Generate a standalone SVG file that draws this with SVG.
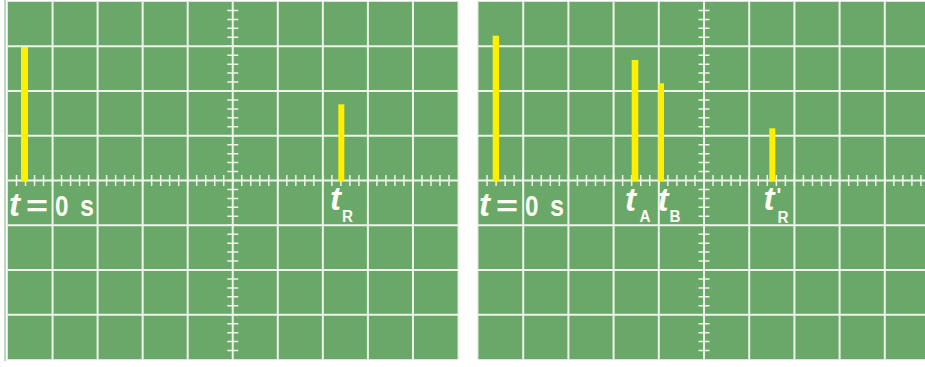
<svg xmlns="http://www.w3.org/2000/svg" width="925" height="367" viewBox="0 0 925 367">
  <style>
    .screen { fill: #69a869; stroke: #dce8d6; stroke-width: 1; }
    .grid { stroke: #eef4ea; stroke-width: 2; fill: none; }
    .tick { stroke: #eef4ea; stroke-width: 11; fill: none; }
    .pulse { fill: #fff000; }
    .lbl { font-family: "Liberation Sans", Arial, sans-serif; fill: #fdfcf2; font-weight: bold; }
    .big { font-size: 30px; }
    .it { font-style: italic; font-size: 33px; }
    .sub { font-size: 16px; }
  </style>
  <rect width="925" height="367" fill="#ffffff"/>

  <g id="screen-left">
    <line x1="5" y1="0" x2="5" y2="361" stroke="#a3cba3" stroke-width="1.5"/>
    <rect class="screen" x="7.5" y="1.5" width="450.5" height="358"/>
    <path class="grid" d="M52.55 1.5V359.5M97.6 1.5V359.5M142.65 1.5V359.5M187.7 1.5V359.5M232.75 1.5V359.5M277.8 1.5V359.5M322.85 1.5V359.5M367.9 1.5V359.5M412.95 1.5V359.5M7.5 46.25H458M7.5 91H458M7.5 135.75H458M7.5 180.5H458M7.5 225.25H458M7.5 270H458M7.5 314.75H458"/>
    <line class="tick" x1="15.76" y1="180.5" x2="450" y2="180.5" stroke-dasharray="1.5 7.51"/>
    <line class="tick" x1="232.75" y1="9.7" x2="232.75" y2="351.3" stroke-dasharray="1.5 7.45"/>
  </g>

  <g id="screen-right">
    <rect class="screen" x="478" y="1.5" width="452" height="358"/>
    <path class="grid" d="M523.2 1.5V359.5M568.4 1.5V359.5M613.6 1.5V359.5M658.8 1.5V359.5M704 1.5V359.5M749.2 1.5V359.5M794.4 1.5V359.5M839.6 1.5V359.5M884.8 1.5V359.5M478 46.25H930M478 91H930M478 135.75H930M478 180.5H930M478 225.25H930M478 270H930M478 314.75H930"/>
    <line class="tick" x1="486.29" y1="180.5" x2="925" y2="180.5" stroke-dasharray="1.5 7.54"/>
    <line class="tick" x1="704" y1="9.7" x2="704" y2="351.3" stroke-dasharray="1.5 7.45"/>
  </g>

  <g id="pulses">
    <rect id="pulse-left-0" class="pulse" x="21" y="47" width="7" height="134.5"/>
    <rect id="pulse-left-R" class="pulse" x="338.3" y="104.3" width="6" height="77.2"/>
    <rect id="pulse-right-0" class="pulse" x="492.7" y="35.7" width="6.3" height="145.8"/>
    <rect id="pulse-right-A" class="pulse" x="631.7" y="60" width="6.6" height="121.5"/>
    <rect id="pulse-right-B" class="pulse" x="658.3" y="83.3" width="5.7" height="98.2"/>
    <rect id="pulse-right-R2" class="pulse" x="769.3" y="128.3" width="6" height="53.2"/>
  </g>

  <g id="label-left-t0" class="lbl">
    <text class="it" x="9" y="216">t</text>
    <text class="big" x="26" y="216" textLength="22" lengthAdjust="spacingAndGlyphs">=</text>
    <text class="big" x="55" y="216" textLength="13.5" lengthAdjust="spacingAndGlyphs">0</text>
    <text class="big" x="80" y="216" textLength="14" lengthAdjust="spacingAndGlyphs">s</text>
  </g>
  <g id="label-left-tR" class="lbl">
    <text class="it" x="330" y="210">t</text>
    <text class="sub" x="342" y="222" textLength="11" lengthAdjust="spacingAndGlyphs">R</text>
  </g>

  <g id="label-right-t0" class="lbl">
    <text class="it" x="479" y="216">t</text>
    <text class="big" x="496" y="216" textLength="22" lengthAdjust="spacingAndGlyphs">=</text>
    <text class="big" x="525" y="216" textLength="13.5" lengthAdjust="spacingAndGlyphs">0</text>
    <text class="big" x="550" y="216" textLength="14" lengthAdjust="spacingAndGlyphs">s</text>
  </g>
  <g id="label-right-tA" class="lbl">
    <text class="it" x="625" y="211">t</text>
    <text class="sub" x="639.5" y="222" textLength="11" lengthAdjust="spacingAndGlyphs">A</text>
  </g>
  <g id="label-right-tB" class="lbl">
    <text class="it" x="657.5" y="211">t</text>
    <text class="sub" x="669.5" y="222" textLength="11" lengthAdjust="spacingAndGlyphs">B</text>
  </g>
  <g id="label-right-tR2" class="lbl">
    <text class="it" x="763.5" y="210">t</text>
    <text x="776.5" y="202" style="font-size:20px">'</text>
    <text class="sub" x="777.5" y="222.5" textLength="11" lengthAdjust="spacingAndGlyphs">R</text>
  </g>
</svg>
